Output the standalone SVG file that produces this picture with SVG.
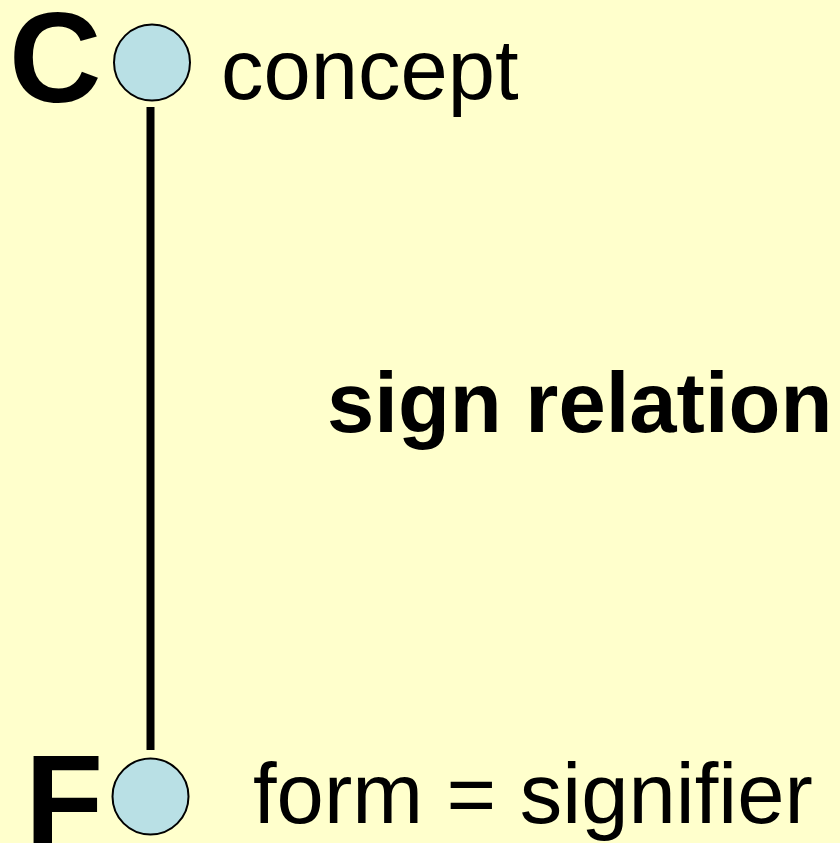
<svg xmlns="http://www.w3.org/2000/svg" width="840" height="843" viewBox="0 0 840 843">
<style>
.big{font-family:"Liberation Sans",Arial,sans-serif;font-weight:bold;font-size:128px;fill:#000}
.lbl{font-family:"Liberation Sans",Arial,sans-serif;font-size:85px;fill:#000}
.b{font-weight:bold}
.node{fill:#B9E0E5;stroke:#000;stroke-width:2}
</style>
<rect width="840" height="843" fill="#FFFFCC"/>
<g id="connectors">
<line x1="150.5" y1="107" x2="150.5" y2="750" stroke="#000" stroke-width="8"/>
</g>
<g id="node-C">
<text class="big" x="9" y="102">C</text>
<circle class="node" cx="152" cy="62.5" r="38"/>
<text class="lbl" x="221" y="99">concept</text>
</g>
<g id="node-F">
<text class="big" x="25" y="844">F</text>
<circle class="node" cx="150.5" cy="796.5" r="38"/>
<text class="lbl" x="253" y="823">form = signifier</text>
</g>
<g id="label-relation">
<text class="lbl b" x="327" y="432">sign relation</text>
</g>
</svg>
